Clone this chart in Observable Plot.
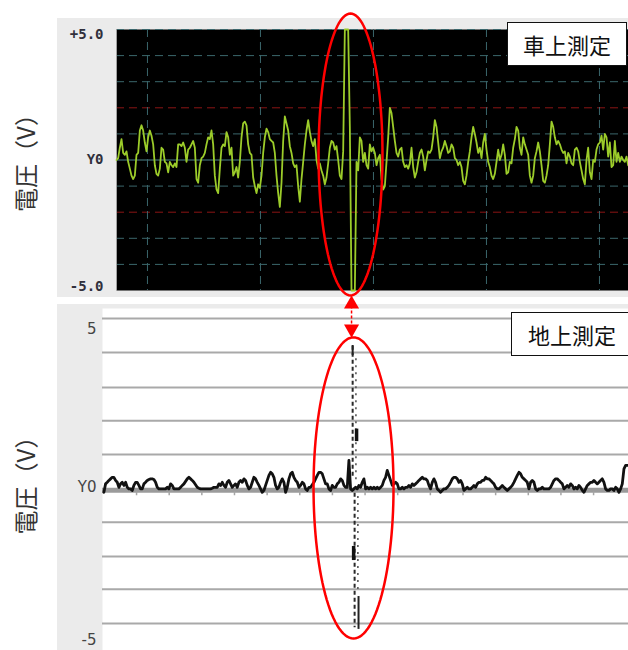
<!DOCTYPE html>
<html>
<head>
<meta charset="utf-8">
<script src="https://cdn.jsdelivr.net/npm/d3@7"></script>
<script src="https://cdn.jsdelivr.net/npm/@observablehq/plot@0.6"></script>
<style>
  body { margin: 0; background: #fff; }
  #wrap { position: relative; width: 628px; height: 650px; overflow: hidden; background: #fff; font-family: "Noto Sans CJK JP", sans-serif; }
  .bg { position: absolute; background: #ebebeb; }
  .panel { position: absolute; left: 0; }
  .box { position: absolute; box-sizing: border-box; background: #fff; border: 1.5px solid #111; font-size: 22px; color: #111;
         display: flex; align-items: center; justify-content: center; font-family: "Noto Sans CJK JP", sans-serif; }
</style>
</head>
<body>
<div id="wrap">
  <div class="bg" style="left:57px;top:18px;width:571px;height:279px"></div>
  <div class="bg" style="left:57px;top:304px;width:571px;height:346px"></div>
  <div id="topPanel" class="panel" style="top:0"></div>
  <div id="bottomPanel" class="panel" style="top:290px"></div>
  <div id="topTitle" class="box" style="left:507px;top:22px;width:120px;height:44px"></div>
  <div id="bottomTitle" class="box" style="left:511px;top:312px;width:122px;height:44px"></div>
</div>
<script>
// ---------- texts ----------
const topTitle = "車上測定";
const bottomTitle = "地上測定";
const yTitle = "電圧（V）";

// ---------- top panel (on-board measurement) ----------
const topTickValues = [5, 0, -5];
const topTickLabels = ["+5.0", "Y0", "-5.0"];
const topGridV = [5, 4, 3, 1, -1, -3, -4];
const topAlarmV = [2, -2];
const topDivT = [0, 1, 2, 3, 4];
const topT0 = -0.274;      // time (divisions) of first sample
const topDt = 0.01475;     // sample spacing (divisions)
const topVolts = [
  0, 0.07, 0.47, 0.8, 0.27, 0.2, 0.33, -0.07, -0.33, -0.6,
  -0.73, -0.6, 0.2, 0.27, 1.13, 1.33, 1.13, 0.67, 0.33, 0.87,
  1.13, 0.93, 0.6, -0.2, -0.53, -0.6, -0.33, 0.47, 0.4, -0.07,
  -0.13, -0.47, -0.07, -0.2, -0.27, -0.13, -0.27, 0.6, 0.6, 0.53,
  0.67, 0.47, -0.07, 0.4, 0.47, 0.6, 0.73, 0.47, -0.73, -0.87,
  -0.2, 0.07, 0.13, 0.27, 0.6, 0.87, 0.8, 1.13, 0.6, -0.6,
  -1.13, -1.27, -0.33, 0.47, 0.6, 0.53, 1.07, 0.87, 0.2, 0.47,
  -0.6, -0.47, -0.27, -0.67, -0.07, 0.87, 1.4,
  1.47, 1.33, 0.6, 0.27, 0.2, -0.67, -1.0, -1.27, -0.93, -1.07,
  -0.6, 0.27, 0.87, 1.2, 1.07, 0.8, 0.73, 0.67, 0.27, -0.6,
  -1.27, -1.8, -0.87, 0.73, 1.67, 1.4, 1.13, 0.53, 0.27, -0.13,
  -0.27, -0.2, -1.0, -1.6, -0.73, -0.07, 0.6, 1.13, 1.53, 1.07,
  0.73, 0.53, 0.8, 0, -0.33, -0.13, -0.4, -0.6, -0.93, -0.67,
  -0.13, 0.47, 0.73, 0.67, 0.4, 0.53, 0, -0.6, -0.73, 0.33,
  5, 5, 5, 1.27, -5, -5, -5, -0.07, -0.4, 0.87,
  0.73, -0.07, 0.27, -0.2, -0.33, 0.6, 0.33,
  0.47, 0.27, -0.2, 0.07, 0.2, -0.73, -1.13, -1.0, -0.07, 0.87,
  2.0, 1.8, 1.27, 0.73, 0.27, 0.13, 0.4, 0.47, -0.07, -0.27,
  -0.2, -0.33, -0.13, 0.47, -0.27, -0.67, -0.47, -0.07, 0.27, 0.4,
  0.13, -0.4, 0, 0.33, 0.27, 0.4, 0.87, 1.53, 1.27, 0.67,
  0.07, 0.33, 0.47, 0.73, 0.53, 0.27, 0.33, 0.6, 0.47, 0.07,
  0, -0.2, -0.07, -0.27, -0.8, -0.93, -0.6, -0.07, 0.33, 0.87,
  1.27, 1.0, 0.67, 0.27, 0.47, 0.07, 0.67, 1.0, 0.4, -0.07,
  -0.27, -0.6, -0.73, -0.53, -0.07, 0.4,
  0, 0.2, 0.6, 0.2, -0.53, -0.47, -0.07, -0.13, 0.47, 0.8,
  1.27, 1.13, 0.47, 0.2, 0.87, 0.6, 0.4, 0.2, -0.6, -0.87,
  -0.6, 0.07, 0.33, 0.67, 0.33, -0.2, -0.8, -0.87, -0.6, -0.2,
  0.6, 1.47, 1.27, 0.87, 0.6, 0.73, 0.6, 0.4, 0.27, 0.33,
  -0.13, 0.27, 0.13, -0.13, -0.2, 0.4, 0.47, 0.33, -0.07, -0.4,
  -0.73, -0.93, 0, 0.47, -0.47, -0.73, 0, -0.07, 0.4, 0.6,
  0.67, 0.93, 0.4, 1.0, 0.87, 0.13, 0.67, -0.27, -0.2, 0.73,
  -0.07, 0.27, -0.07, 0.13, 0, -0.07, 0.13, -0.2
];
// highlight ellipse on the top panel: centre (t, V) and radii
const topMark = {t: 1.797, v: 0.21, rt: 0.283, rv: 5.40};

// ---------- bottom panel (ground measurement) ----------
const bottomTickValues = [5, 0, -5];
const bottomTickLabels = ["5", "Y0", "-5"];
const bottomGridV = [5.38, 4.30, 3.18, 2.12, 1.04, -1.13, -2.22, -3.27, -4.36];
const bottomBaseV = -0.1;
const bottomTickT = [1, 2, 3, 4, 5, 6, 7, 8, 9, 10, 11, 12, 13, 14, 15];
const bottomT0 = 0;
const bottomDt = 0.05106;
const bottomVolts = [
  -0.17, 0.10, 0.15, 0.21, 0.26, 0.31, 0.31, 0.21, 0.15, -0.01,
  0.10, 0.15, 0.05, 0.15, -0.01, -0.06, -0.06, -0.11, 0.05, 0.15,
  0.15, 0.05, -0.06, -0.06, 0.10, 0.15, 0.21, 0.24, 0.26, 0.26,
  0.24, 0.15, -0.01, -0.06, -0.06, -0.06, -0.06, -0.06, -0.01, -0.06,
  0.10, 0.05, -0.06, -0.06, -0.06, -0.06, -0.01, 0.05, 0.10, 0.18,
  0.26, 0.31, 0.26, 0.21, 0.15, 0.07, -0.01, -0.04, -0.06, -0.06,
  -0.06, -0.06, -0.06, -0.06, -0.06, -0.04, -0.01, -0.01, -0.01, 0.10,
  0.05, 0.15, 0.05, -0.01, 0.15, 0.21, 0.10, -0.01, 0.05, 0.10,
  -0.01, 0.15, 0.21, 0.15, 0.26, 0.21, 0.05, -0.06, -0.01, 0.15,
  0.31, 0.26, 0.15, 0.05, -0.06, -0.17, -0.11, 0.05, 0.21, 0.37,
  0.47, 0.42, 0.31, 0.05, -0.06, -0.01, 0.15, 0.26, 0.15, -0.17,
  -0.01, 0.26, 0.42, 0.47, 0.31, 0.21, 0.15, -0.01, 0.05, 0.15,
  0.10, -0.06, -0.11, -0.01, -0.01, 0.07, 0.15, 0.26, 0.37, 0.47,
  0.47, 0.42, 0.26, 0.10, 0.10, -0.06, -0.11, 0.05, -0.01, -0.01,
  0.10, 0.15, 0.26, 0.21, 0.05, -0.01, -0.01, 0.85, -0.06, -0.11,
  -0.06, -0.01, -0.06, 0.05, -0.01, 0.15,
  0.26, -0.06, -0.01, -0.06, -0.01, -0.06, -0.01, -0.06, -0.01, -0.06,
  -0.01, 0.05, 0.21, 0.31, 0.53, 0.37, 0.21, 0.05, 0.10, 0.15,
  0.10, -0.06, -0.06, -0.01, -0.06, -0.01, -0.01, 0.05, -0.01, 0.10,
  0.05, 0.10, 0.15, 0.21, 0.26, 0.31, 0.26, 0.26, 0.21, 0.05,
  -0.06, 0.15, 0.26, 0.15, -0.06, -0.11, -0.17, -0.11, -0.06, -0.06,
  -0.01, 0.05, 0.15, 0.26, 0.31, 0.31, 0.26, 0.15, 0.21, 0.10,
  -0.11, -0.06, -0.01, -0.06, -0.06, -0.01, 0.05, -0.01, 0.10, 0.15,
  0.15, 0.21, 0.21, 0.31, 0.26, 0.26, 0.21, 0.15, 0.10, -0.01,
  -0.06, -0.06, -0.01, 0.05, -0.01, -0.06, -0.11, -0.06, -0.01, 0.05,
  0.15, 0.26, 0.37, 0.47, 0.42, 0.31, 0.26, 0.21, 0.15, -0.06,
  0.15, 0.21, 0.15, -0.06, -0.11, -0.06, -0.06, -0.01, -0.06, -0.06,
  -0.06, -0.06, -0.01, 0.10, 0.21, 0.26, 0.26, 0.21, 0.15, 0.10,
  -0.06, -0.01, 0.05, -0.01, 0.10, 0.05, -0.06, -0.01, -0.06, 0.05,
  -0.01, -0.11, -0.17, -0.06, 0.05, 0.10, 0.15, 0.15, 0.21, 0.15,
  0.10, 0.15, 0.21, 0.26, 0.15, -0.06, -0.11, -0.11, -0.06, -0.06,
  -0.11, -0.01, -0.06, -0.17, -0.06, 0.10, 0.58, 0.69, 0.69, 0.69
];
// burst at the passing moment, drawn as sparse vertical strokes
const spikeT    = [7.62, 7.72, 7.62, 7.74, 7.68, 7.78, 7.65, 7.80];
const spikeFrom = [4.50, 4.10, 4.52, 1.85, -0.20, -0.30, -1.90, -3.50];
const spikeTo   = [0.30, 0.20, 4.20, 1.45, -4.50, -3.40, -2.35, -4.55];
const spikeKind = ["dash", "dash2", "solid", "blob", "dash", "dash2", "blob", "solid"];
// highlight ellipse on the bottom panel and the linking arrow
const bottomMark = {t: 7.647, v: -0.03, rt: 1.225, rv: 4.81};
const arrowT = 7.586;
const arrowHeadV = [5.84, 5.05];
const arrowHeadRot = [0, 180];
const arrowLineV = [5.78, 5.12];

// ---------- build ----------
const topSamples = topVolts.map((v, i) => ({t: topT0 + i * topDt, v}));
const bottomSamples = bottomVolts.map((v, i) => ({t: bottomT0 + i * bottomDt, v}));
const spikes = spikeT.map((t, i) => ({t, from: spikeFrom[i], to: spikeTo[i], kind: spikeKind[i]}));
const ellipse = m => d3.range(0, 361, 3).map(a => ({
  t: m.t + m.rt * Math.cos(a * Math.PI / 180),
  v: m.v + m.rv * Math.sin(a * Math.PI / 180)
}));
const topIdx = topTickValues.map((_, i) => i);
const botIdx = bottomTickValues.map((_, i) => i);
const heads = arrowHeadV.map((v, i) => ({t: arrowT, v, r: arrowHeadRot[i]}));
const anchors = ["top", "middle", "bottom"];
const botDy = [-1, 0, 2];
const botAnchor = ["middle", "middle", "bottom"];

const topTickMarks = topIdx.map(k => Plot.text(topIdx, {
  filter: i => i === k, y: i => topTickValues[i], text: i => topTickLabels[i],
  frameAnchor: "left", textAnchor: "end", lineAnchor: anchors[k], dx: -13,
  fontFamily: "DejaVu Sans Mono", fontSize: 14, fontWeight: "bold", fill: "#30303c"}));

const botTickMarks = botIdx.map(k => Plot.text(botIdx, {
  filter: i => i === k, y: i => bottomTickValues[i], text: i => bottomTickLabels[i],
  frameAnchor: "left", textAnchor: "end", lineAnchor: botAnchor[k], dx: -6, dy: botDy[k],
  fontFamily: "DejaVu Sans", fontSize: 15, fill: "#444"}));

const topPlot = Plot.plot({
  width: 628, height: 300,
  marginLeft: 116, marginRight: 0, marginTop: 29, marginBottom: 10,
  style: {background: "transparent", overflow: "visible"},
  x: {domain: [-0.274, 4.257], axis: null},
  y: {domain: [-5, 5], axis: null},
  marks: [
    Plot.frame({fill: "#000", stroke: null}),
    Plot.ruleY(topGridV, {stroke: "#3b676c", strokeWidth: 1, strokeDasharray: "8,5"}),
    Plot.ruleY(topAlarmV, {stroke: "#8a1414", strokeWidth: 1, strokeDasharray: "8,5"}),
    Plot.ruleY([0], {stroke: "#4c8489", strokeWidth: 1}),
    Plot.ruleX(topDivT, {stroke: "#3b676c", strokeWidth: 1, strokeDasharray: "8,5"}),
    Plot.ruleX([-0.274], {stroke: "#a0a0a0", strokeWidth: 1}),
    Plot.line(topSamples, {x: "t", y: "v", stroke: "#9ccc2a", strokeWidth: 1.8}),
    Plot.line(ellipse(topMark), {x: "t", y: "v", stroke: "#ff0000", strokeWidth: 2.5}),
    ...topTickMarks,
    Plot.text([yTitle], {frameAnchor: "left", textAnchor: "middle", dx: -89, dy: -3, rotate: -90,
      fontSize: 24, fill: "#333", fontFamily: "Noto Sans CJK JP"})
  ]
});
document.getElementById("topPanel").appendChild(topPlot);

const bottomPlot = Plot.plot({
  width: 628, height: 360,
  marginLeft: 102, marginRight: 0, marginTop: 18, marginBottom: 0,
  style: {background: "transparent", overflow: "visible"},
  x: {domain: [-0.043, 16.07], axis: null},
  y: {domain: [-5.224, 5.703], axis: null},
  marks: [
    Plot.frame({fill: "#fff", stroke: null}),
    Plot.ruleY(bottomGridV, {stroke: "#a9a9a9", strokeWidth: 2}),
    Plot.ruleY([bottomBaseV], {stroke: "#9b9b9b", strokeWidth: 5}),
    Plot.ruleX(bottomTickT, {y1: () => -0.16, y2: () => -0.28, stroke: "#a5a5a5", strokeWidth: 1.5}),
    Plot.line(bottomSamples, {x: "t", y: "v", stroke: "#111", strokeWidth: 2.8, strokeLinejoin: "round"}),
    Plot.ruleX(spikes, {filter: d => d.kind === "dash", x: "t", y1: "from", y2: "to",
      stroke: "#2a2a2a", strokeWidth: 2, strokeDasharray: "4,3"}),
    Plot.ruleX(spikes, {filter: d => d.kind === "dash2", x: "t", y1: "from", y2: "to",
      stroke: "#555", strokeWidth: 1.6, strokeDasharray: "2,5"}),
    Plot.ruleX(spikes, {filter: d => d.kind === "solid", x: "t", y1: "from", y2: "to",
      stroke: "#222", strokeWidth: 2}),
    Plot.ruleX(spikes, {filter: d => d.kind === "blob", x: "t", y1: "from", y2: "to",
      stroke: "#111", strokeWidth: 3.5}),
    Plot.line(ellipse(bottomMark), {x: "t", y: "v", stroke: "#ff0000", strokeWidth: 2.5}),
    Plot.ruleX([arrowT], {y1: () => arrowLineV[0], y2: () => arrowLineV[1],
      stroke: "#ff0000", strokeWidth: 1.5, strokeDasharray: "3,2"}),
    Plot.dot(heads, {x: "t", y: "v", rotate: "r", symbol: "triangle", r: 5.6, fill: "#ff0000", stroke: null}),
    ...botTickMarks,
    Plot.text([yTitle], {frameAnchor: "left", textAnchor: "middle", dx: -75, rotate: -90,
      fontSize: 24, fill: "#333", fontFamily: "Noto Sans CJK JP"})
  ]
});
document.getElementById("bottomPanel").appendChild(bottomPlot);

document.getElementById("topTitle").textContent = topTitle;
document.getElementById("bottomTitle").textContent = bottomTitle;
</script>
</body>
</html>
